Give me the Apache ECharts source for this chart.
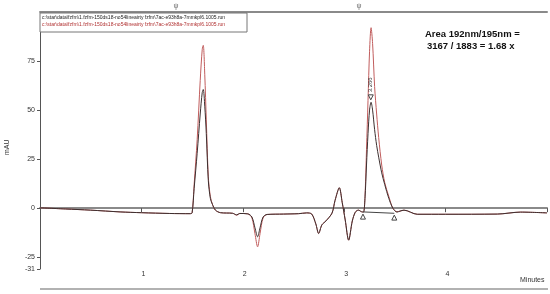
<!DOCTYPE html>
<html>
<head>
<meta charset="utf-8">
<script src="https://cdn.jsdelivr.net/npm/echarts@6/dist/echarts.min.js"></script>
<style>
  html, body { margin: 0; padding: 0; background: #fff; }
  #graph { width: 550px; height: 294px; }
</style>
</head>
<body>
<div id="graph"></div>
<script>
// retention time (minutes)
var minutes = [
    0.00, 0.25, 0.50, 0.79, 1.00, 1.28, 1.48,
    1.50, 1.52, 1.55, 1.58, 1.60, 1.61, 1.625, 1.64, 1.66, 1.68, 1.70, 1.73, 1.78,
    1.90, 1.94, 1.97, 2.05, 2.09, 2.12, 2.146, 2.17, 2.20, 2.24, 2.40, 2.55, 2.63,
    2.68, 2.72, 2.748, 2.78, 2.82, 2.88, 2.91, 2.952, 2.98, 3.01, 3.044, 3.08, 3.11, 3.14, 3.17,
    3.19, 3.205, 3.22, 3.235, 3.25, 3.265, 3.28, 3.30, 3.32, 3.34, 3.37, 3.40, 3.44, 3.48, 3.52,
    3.55, 3.59, 3.72, 4.00, 4.51, 4.74, 5.00
];
// black trace (mAU)
var trace195 = [
    0.2, -0.4, -1.0, -1.9, -2.3, -2.7, -2.8,
    -2.4, 10, 28, 48, 59, 60.5, 52, 38, 14, 5, 2, -1, -2.3,
    -2.6, -3.4, -2.7, -2.9, -4.5, -10, -14.6, -10, -4.5, -3.2, -3.0, -2.8, -2.4,
    -3.0, -8, -12.9, -8.5, -6.5, -2.5, 4, 10.4, 3, -6, -16.3, -6.5, -2, -1, -1.8,
    -2, 5, 22, 38, 50, 54, 50, 40, 32, 26, 18, 12, 5, 0, -2,
    -1.5, -1.0, -3.1, -3.1, -3.0, -2.0, -2.4
];
// red trace (mAU)
var trace192 = [
    0.2, -0.4, -1.0, -1.9, -2.3, -2.7, -2.8,
    -2.4, 12, 35, 65, 81, 83, 68, 45, 16, 6, 2, -1, -2.3,
    -2.6, -3.6, -2.7, -2.9, -5, -13, -19.7, -13, -5, -3.2, -3.0, -2.8, -2.4,
    -3.0, -8, -12.9, -8.5, -6.5, -2.5, 4, 10.4, 3, -6, -16.3, -6.5, -2, -1, -1.8,
    -2, 6, 30, 55, 80, 92, 84, 62, 48, 36, 22, 13, 6, 0, -1.8,
    -1.5, -1.0, -3.1, -3.1, -3.0, -2.0, -2.4
];
var yTicks = [-31, -25, 0, 25, 50, 75];
var xTicks = [1, 2, 3, 4];
var eventTimes = [1.341, 3.146];
var peakTime = 3.262, peakLabel = '3.266';
var baseStart = [3.185, -1.9], baseEnd = [3.494, -2.6];
var runName = 'c:\\star\\data\\fzfm\\1.fzfm-150ds18-no54lineairty fzfm\\7ac-e93h8a-7mmkpl6.1005.run';

function pairs(vals) {
    return minutes.map(function (t, i) { return [t, vals[i]]; });
}

var dom = document.getElementById('graph');
var chart = echarts.init(dom, null, { renderer: 'canvas' });

chart.setOption({
    animation: false,
    grid: { left: 40, right: 3, top: 12, bottom: 25, containLabel: false, outerBoundsMode: 'none' },
    xAxis: [{
        type: 'value', min: 0, max: 5,
        axisLine: { lineStyle: { color: '#8a8a8a', width: 2 } },
        axisTick: { customValues: [0].concat(xTicks, [5]), length: 4, lineStyle: { color: '#555' } },
        axisLabel: { customValues: xTicks, align: 'left', margin: 2, fontSize: 7, color: '#333', fontFamily: 'Arial' },
        splitLine: { show: false }
    }, {
        type: 'value', min: 0, max: 5, position: 'top',
        axisLine: { lineStyle: { color: '#8a8a8a', width: 2 } },
        axisTick: { show: false }, axisLabel: { show: false }, splitLine: { show: false }
    }],
    yAxis: {
        type: 'value', min: -31, max: 100,
        axisLine: { show: true, lineStyle: { color: '#555', width: 1 } },
        axisTick: { show: true, customValues: yTicks, length: 3, lineStyle: { color: '#555' } },
        axisLabel: { customValues: yTicks, margin: 5, fontSize: 7, color: '#333', fontFamily: 'Arial' },
        splitLine: { show: false }
    },
    series: [{
        name: '192nm',
        type: 'line',
        data: pairs(trace192),
        showSymbol: false,
        smooth: 0.3,
        lineStyle: { color: '#c05c5c', width: 1 },
        markPoint: {
            silent: true,
            symbol: 'circle', symbolSize: 1,
            itemStyle: { color: 'rgba(0,0,0,0)' },
            label: { show: true, position: 'top', distance: 2, formatter: 'ψ', fontSize: 7, color: '#666' },
            data: eventTimes.map(function (t) { return { coord: [t, 100] }; })
        }
    }, {
        name: '195nm',
        type: 'line',
        data: pairs(trace195),
        showSymbol: false,
        smooth: 0.3,
        lineStyle: { color: '#3c2f2f', width: 1 },
        markLine: {
            silent: true, symbol: 'none',
            label: { show: false },
            lineStyle: { color: '#444', width: 1, type: 'solid' },
            data: [[{ coord: baseStart }, { coord: baseEnd }]]
        },
        markPoint: {
            silent: true,
            symbol: 'triangle', symbolSize: 5,
            itemStyle: { color: '#fff', borderColor: '#444', borderWidth: 1 },
            label: { show: false },
            data: [
                { coord: [baseStart[0], baseStart[1] - 2.4] },
                { coord: [baseEnd[0], baseEnd[1] - 2.2] },
                {
                    coord: [peakTime, 56.5], symbolRotate: 180,
                    label: {
                        show: true, position: 'top', distance: 2, rotate: 90,
                        align: 'left', verticalAlign: 'middle',
                        formatter: peakLabel, fontSize: 6, color: '#333'
                    }
                }
            ]
        }
    }],
    graphic: [
        { type: 'rect', shape: { x: 40, y: 13, width: 207, height: 19 },
          style: { fill: '#fff', stroke: '#777', lineWidth: 1 }, z: 10 },
        { type: 'text', x: 42, y: 15, z: 11,
          style: { text: runName, font: '5px Arial', fill: '#222' } },
        { type: 'text', x: 42, y: 22, z: 11,
          style: { text: runName, font: '5px Arial', fill: '#b03030' } },
        { type: 'text', x: 425, y: 29, z: 11,
          style: { text: 'Area 192nm/195nm =', font: 'bold 9.5px Arial', fill: '#111' } },
        { type: 'text', x: 427, y: 41, z: 11,
          style: { text: '3167 / 1883 = 1.68 x', font: 'bold 9.5px Arial', fill: '#111' } },
        { type: 'text', x: 4, y: 155, rotation: Math.PI / 2, z: 11,
          style: { text: 'mAU', font: '7px Arial', fill: '#333' } },
        { type: 'text', x: 520, y: 277, z: 11,
          style: { text: 'Minutes', font: '7px Arial', fill: '#333' } },
        { type: 'line', shape: { x1: 40, y1: 289, x2: 548, y2: 289 },
          style: { stroke: '#999', lineWidth: 1.5 } }
    ]
});
</script>
</body>
</html>
